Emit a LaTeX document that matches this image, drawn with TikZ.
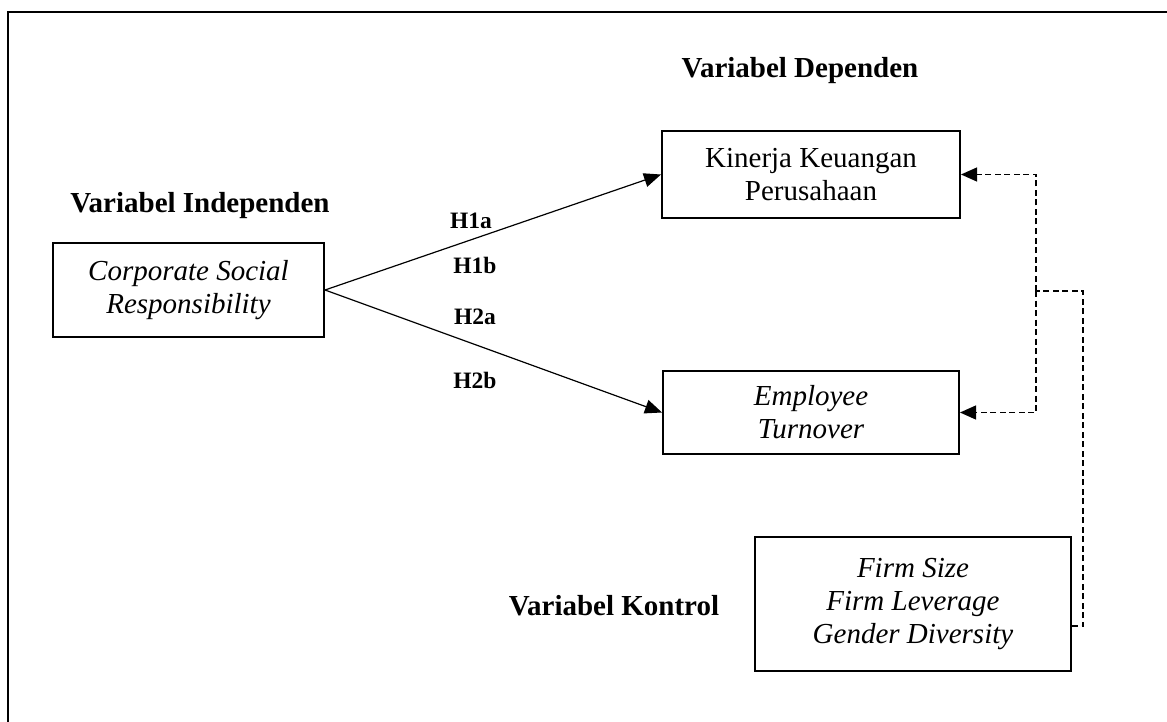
\documentclass[tikz,border=0pt]{standalone}
\usepackage{fontspec}
\setmainfont{Liberation Serif}
\usetikzlibrary{arrows.meta,calc}
\tikzset{
  box/.style={draw, line width=2pt, rectangle, align=center, inner sep=0pt,
    font=\fontsize{29}{33}\selectfont},
  head/.style={font=\fontsize{29}{33}\selectfont\bfseries, anchor=base, inner sep=0pt},
  hlab/.style={font=\fontsize{23.5}{28}\selectfont\bfseries, anchor=base, inner sep=0pt},
  arr/.style={line width=1.2pt, -{Triangle[length=17pt,width=14pt]}},
  dsh/.style={line width=1.2pt, dash pattern=on 6pt off 3.5pt},
  darr/.style={dsh, -{Triangle[length=16pt,width=14pt]}}
}
\begin{document}
\begin{tikzpicture}[x=1pt,y=-1pt]
\useasboundingbox (0,0) rectangle (1167,722);
\draw[line width=2pt] (8,722) -- (8,12) -- (1167,12);

\node[box, minimum width=271pt, minimum height=94pt] (csr) at (188.5,290)
  {\itshape Corporate Social\\\itshape Responsibility};
\node[box, minimum width=298pt, minimum height=87pt] (kin) at (811,174.5)
  {Kinerja Keuangan\\Perusahaan};
\node[box, minimum width=296pt, minimum height=83pt] (emp) at (811,412.5)
  {\itshape Employee\\\itshape Turnover};
\node[box, minimum width=316pt, minimum height=134pt] (firm) at (913,604)
  {\itshape Firm Size\\\itshape Firm Leverage\\\itshape Gender Diversity};

\node[head] (hdep) at (800,78) {Variabel Dependen};
\node[head] (hind) at (200,212) {Variabel Independen};
\node[head] (hkon) at (614,615) {Variabel Kontrol};

\node[hlab] (h1a) at (471,229) {H1a};
\node[hlab] (h1b) at (475,273) {H1b};
\node[hlab] (h2a) at (475,324) {H2a};
\node[hlab] (h2b) at (475,388) {H2b};

\draw[arr] (csr.east) -- (kin.west);
\draw[arr] (csr.east) -- (emp.west);

\coordinate (j) at (1036,291);
\coordinate (c) at (1083,291);
\draw[dsh] ($(firm.east)+(0,22)$) -| (c) -- (j);
\draw[darr] (j) |- (kin.east);
\draw[darr] (j) |- (emp.east);
\end{tikzpicture}
\end{document}
